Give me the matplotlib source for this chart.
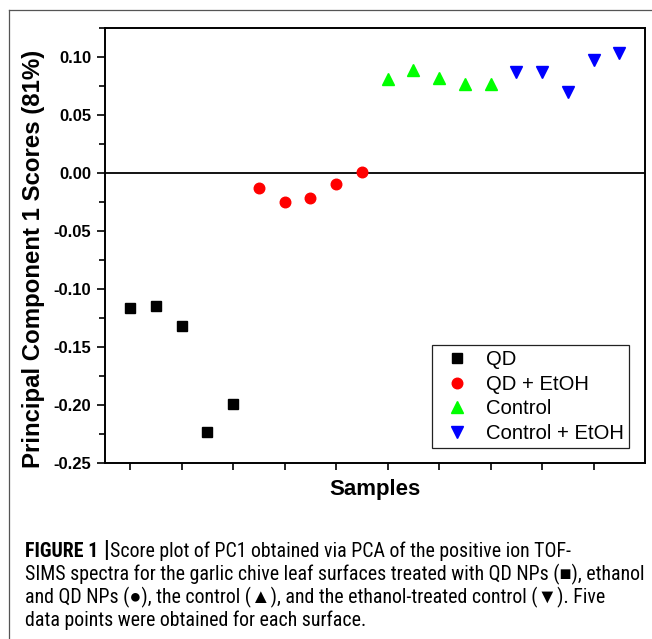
import matplotlib
matplotlib.use("Agg")
import matplotlib.pyplot as plt
from matplotlib.lines import Line2D
from matplotlib.ticker import MultipleLocator, FixedLocator

# ---- data ----
groups = ["QD", "QD + EtOH", "Control", "Control + EtOH"]
qd_x = [1.0, 1.5, 2.0, 2.5, 3.0]
qd_y = [-0.1167, -0.1147, -0.1322, -0.2236, -0.1989]
qde_x = [3.5, 4.0, 4.5, 5.0, 5.5]
qde_y = [-0.0127, -0.0247, -0.0213, -0.0098, 0.0006]
ctl_x = [6.0, 6.5, 7.0, 7.5, 8.0]
ctl_y = [0.0808, 0.0888, 0.0822, 0.0767, 0.0767]
ctle_x = [8.5, 9.0, 9.5, 10.0, 10.5]
ctle_y = [0.0868, 0.0868, 0.0702, 0.0974, 0.1032]
x_ticks = [1, 2, 3, 4, 5, 6, 7, 8, 9, 10]
y_ticks = [-0.25, -0.20, -0.15, -0.10, -0.05, 0.00, 0.05, 0.10]

W, H = 652, 639
DPI = 100
fig = plt.figure(figsize=(W / DPI, H / DPI), dpi=DPI)
fig.patch.set_facecolor("white")

# outer open frame (top and left lines)
fig.add_artist(Line2D([9 / W, 1.0], [1 - 10 / H, 1 - 10 / H], transform=fig.transFigure,
                      color="#555555", lw=0.9))
fig.add_artist(Line2D([9 / W, 9 / W], [0.0, 1 - 10 / H], transform=fig.transFigure,
                      color="#555555", lw=0.9))

ax_l, ax_r, ax_t, ax_b = 105, 645, 28, 463
ax = fig.add_axes([ax_l / W, 1 - ax_b / H, (ax_r - ax_l) / W, (ax_b - ax_t) / H])

font = "Liberation Sans"
ms_sq = 7.4
ms_c = 7.6
ms_t = 9.2
h1, = ax.plot(qd_x, qd_y, ls="none", marker="s", ms=ms_sq, color="black", mec="black")
h2, = ax.plot(qde_x, qde_y, ls="none", marker="o", ms=ms_c, color="#ff0000", mec="#ff0000")
h3, = ax.plot(ctl_x, ctl_y, ls="none", marker="^", ms=ms_t, color="#00ff00", mec="#00ff00")
h4, = ax.plot(ctle_x, ctle_y, ls="none", marker="v", ms=ms_t, color="#0000ff", mec="#0000ff")

ax.axhline(0, color="black", lw=1.3, zorder=1)

ax.set_xlim(0.51, 11.0)
ax.set_ylim(-0.25, 0.125)
ax.xaxis.set_major_locator(FixedLocator(x_ticks))
ax.set_xticklabels([])
ax.yaxis.set_major_locator(FixedLocator(y_ticks))
ax.yaxis.set_minor_locator(MultipleLocator(0.025))
ax.set_yticklabels([f"{v:.2f}" for v in y_ticks], fontfamily=font, fontweight="bold", fontsize=12)

for s in ax.spines.values():
    s.set_linewidth(1.4)
    s.set_color("black")
ax.tick_params(axis="y", which="major", direction="out", length=6, width=1.2, pad=4)
ax.tick_params(axis="x", which="major", direction="out", length=5, width=1.2)
ax.tick_params(axis="y", which="minor", direction="out", length=4, width=1.2)

ax.set_ylabel("Principal Component 1 Scores (81%)", fontfamily=font, fontweight="bold", fontsize=17.3)
ax.yaxis.set_label_coords((45 - ax_l) / (ax_r - ax_l), 0.47)

fig.text(375 / W, 1 - 490 / H, "Samples", ha="center", va="center",
         fontfamily=font, fontweight="bold", fontsize=16)

leg = ax.legend([h1, h2, h3, h4], groups, loc="upper left",
                bbox_to_anchor=((432 - ax_l) / (ax_r - ax_l), (ax_b - 345) / (ax_b - ax_t)),
                borderaxespad=0, borderpad=0.26, handlelength=1.93, handletextpad=0.47,
                labelspacing=0.27, fancybox=False, frameon=True, framealpha=1,
                prop={"family": font, "size": 14.6})
leg.get_frame().set_edgecolor("#222222")
leg.get_frame().set_linewidth(0.9)

# ---- caption ----
cap_fam = ["Roboto Condensed", "Archivo Narrow", "Liberation Sans", "DejaVu Sans"]
lines = [
    "Score plot of PC1 obtained via PCA of the positive ion TOF-",
    "SIMS spectra for the garlic chive leaf surfaces treated with QD NPs (\u25A0), ethanol",
    "and QD NPs (\u25CF), the control (\u25B2), and the ethanol-treated control (\u25BC). Five",
    "data points were obtained for each surface.",
]
x0 = 25 / W
base_y = [557, 580, 603, 626]
fig.canvas.draw()
r = fig.canvas.get_renderer()
# font size chosen so the longest caption line spans the reference width
probe = fig.text(0, 0, lines[1], fontfamily=cap_fam, fontsize=10)
wprobe = probe.get_window_extent(renderer=r).width
probe.remove()
cap_size = 10 * 614 / wprobe

t_b = fig.text(x0, 1 - base_y[0] / H, "FIGURE 1 ", fontfamily=cap_fam, fontweight="bold",
               fontsize=cap_size, va="baseline", ha="left")
bb = t_b.get_window_extent(renderer=r)
t_bar = fig.text(bb.x1 / W, 1 - base_y[0] / H, "|", fontfamily=cap_fam, fontweight="bold",
                 fontsize=cap_size * 1.15, va="baseline", ha="left")
bb2 = t_bar.get_window_extent(renderer=r)
fig.text(bb2.x1 / W + 1 / W, 1 - base_y[0] / H, lines[0], fontfamily=cap_fam,
         fontsize=cap_size, va="baseline", ha="left")
for ln, yb in zip(lines[1:], base_y[1:]):
    fig.text(x0, 1 - yb / H, ln, fontfamily=cap_fam, fontsize=cap_size, va="baseline", ha="left")

fig.savefig("out.png", dpi=DPI, facecolor="white")
